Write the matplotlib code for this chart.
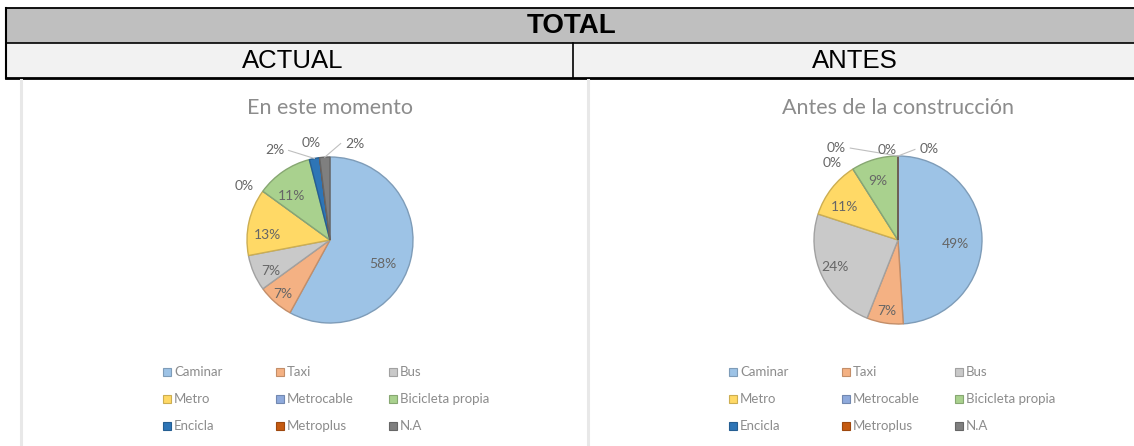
import numpy as np
import matplotlib
matplotlib.use("Agg")
import matplotlib.pyplot as plt
from matplotlib.patches import Rectangle
from matplotlib.colors import to_rgb

W, H = 1134, 446

# datos de las dos tortas
categorias = ["Caminar", "Taxi", "Bus", "Metro", "Metrocable",
              "Bicicleta propia", "Encicla", "Metroplus", "N.A"]
actual = [58, 7, 7, 13, 0, 11, 2, 0, 2]
antes = [49, 7, 24, 11, 0, 9, 0, 0, 0]

colores = ["#9DC3E6", "#F4B183", "#C9C9C9", "#FFD966", "#8FAADC",
           "#A9D18E", "#2E75B6", "#C55A11", "#7F7F7F"]
bordes = [tuple(c * 0.8 for c in to_rgb(col)) for col in colores]

# posicion de etiquetas: (radio, desplazamiento angular horario, linea guia)
etq_actual = [(0.70, 10, False), (0.86, 0, False), (0.80, -4, False),
              (0.76, -8, False), (1.22, -4, False), (0.70, -7, False),
              (1.27, -21, True), (1.19, -4, False), (1.20, 18, True)]
etq_antes = [(0.68, 6, False), (0.86, 0, False), (0.82, 2, False),
             (0.75, -6, False), (1.20, -8, False), (0.74, -3, False),
             (1.32, -34, True), (1.08, -7, False), (1.14, 19, True)]

fig = plt.figure(figsize=(W / 100, H / 100), dpi=100)
bg = fig.add_axes([0, 0, 1, 1])
bg.set_xlim(0, W)
bg.set_ylim(H, 0)
bg.axis("off")

# tabla de encabezado
bg.add_patch(Rectangle((6, 8), W, 35, facecolor="#BFBFBF", edgecolor="none"))
bg.add_patch(Rectangle((6, 43), W, 35, facecolor="#F2F2F2", edgecolor="none"))
bg.plot([6, W], [8, 8], color="black", lw=1.3)
bg.plot([6, W], [43, 43], color="black", lw=1.2)
bg.plot([6, W], [78, 78], color="black", lw=2.0)
bg.plot([6, 6], [8, 78], color="black", lw=1.5)
bg.plot([573, 573], [43, 78], color="black", lw=1.2)

head = dict(family=["Liberation Sans", "DejaVu Sans"], color="black",
            ha="center", va="center")
bg.text(572, 26, "TOTAL", fontsize=20, fontweight="bold", **head)
bg.text(293, 61, "ACTUAL", fontsize=18.5, **head)
bg.text(855, 61, "ANTES", fontsize=18.5, **head)

# bordes suaves de las imagenes de los graficos
for x in (21, 588):
    bg.plot([x, x], [80, H], color="#E8E8E8", lw=2.2)

txt = ["Lato", "DejaVu Sans"]


def torta(cx, cy, r, valores, etiquetas, titulo, leg_x):
    bg.text(cx, 108, titulo, family=txt, fontsize=15.5, color="#8C8C8C",
            ha="center", va="center")
    ax = fig.add_axes([(cx - r) / W, 1 - (cy + r) / H, 2 * r / W, 2 * r / H])
    wedges, _ = ax.pie(valores, colors=colores, startangle=90,
                       counterclock=False, radius=1,
                       wedgeprops=dict(linewidth=1.0))
    for w, ec in zip(wedges, bordes):
        w.set_edgecolor(ec)
    ax.set_xlim(-1, 1)
    ax.set_ylim(-1, 1)
    ax.set_aspect("equal")
    ax.axis("off")
    for w, v, (rr, off, guia) in zip(wedges, valores, etiquetas):
        mid = (w.theta1 + w.theta2) / 2
        ang = np.deg2rad(mid - off)
        x, y = rr * np.cos(ang), rr * np.sin(ang)
        ax.text(x, y, f"{v}%", family=txt, fontsize=10, color="#666666",
                ha="center", va="center", clip_on=False)
        if guia:
            m = np.deg2rad(mid)
            ex, ey = np.cos(m), np.sin(m)
            lx = x + (0.17 if x < ex else -0.17)
            ax.plot([ex, lx], [ey, y], color="#BFBFBF", lw=0.8,
                    clip_on=False)
    # leyenda en tres filas
    for i, nombre in enumerate(categorias):
        fila, col = divmod(i, 3)
        lx = leg_x + col * 113
        ly = 372 + fila * 27
        bg.add_patch(Rectangle((lx - 4, ly - 4), 8, 8, facecolor=colores[i],
                               edgecolor=bordes[i], lw=0.8))
        bg.text(lx + 7, ly, nombre, family=txt, fontsize=9.5,
                color="#8C8C8C", ha="left", va="center")


torta(330, 240, 83, actual, etq_actual, "En este momento", 167)
torta(898, 240, 84, antes, etq_antes, "Antes de la construcción", 733)

fig.savefig("out.png", dpi=100)
